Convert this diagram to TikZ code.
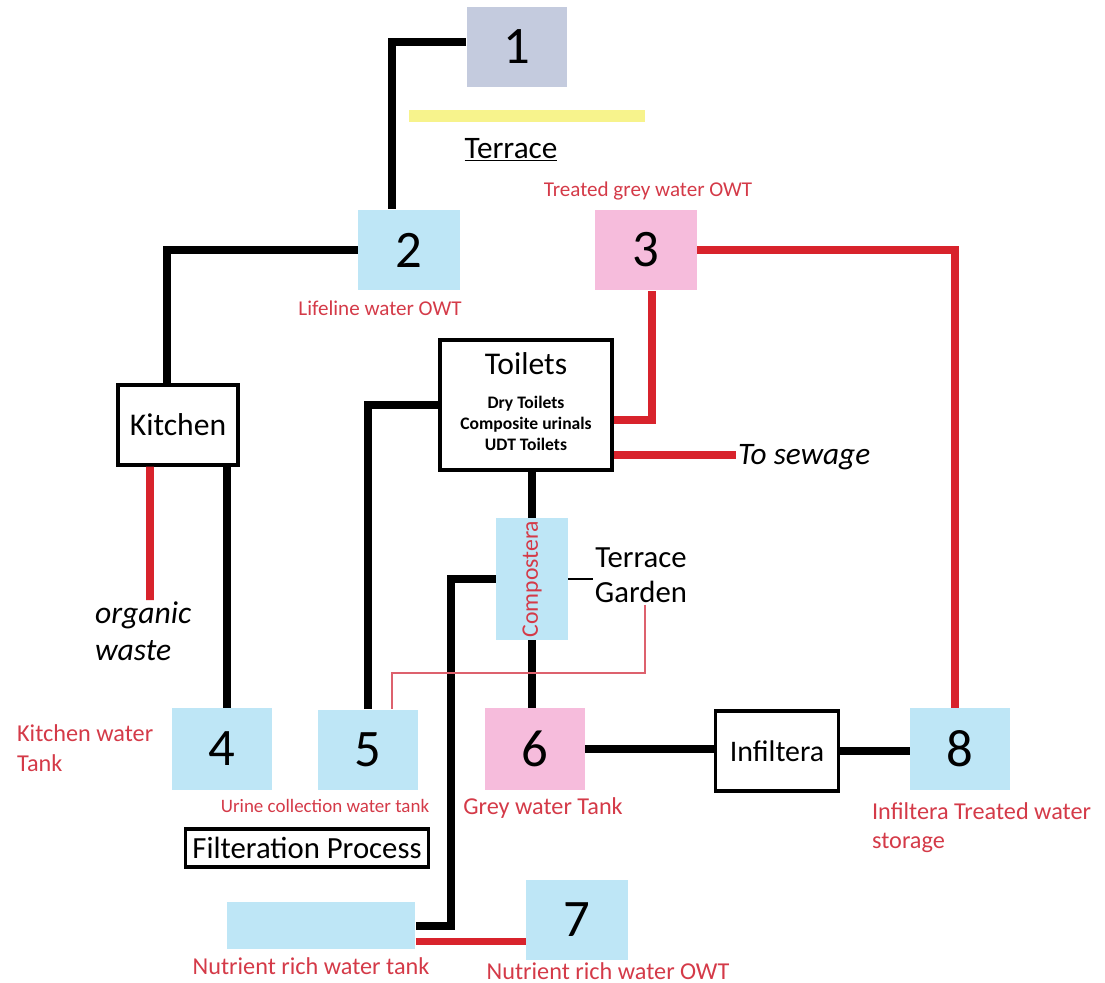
\documentclass[tikz,border=0pt]{standalone}
\usepackage{fontspec}
\setmainfont{Carlito}
\usepackage{tikz}
\usetikzlibrary{positioning, calc}
\definecolor{tBlue}{HTML}{BEE6F6}
\definecolor{tPink}{HTML}{F6BCDC}
\definecolor{tSlate}{HTML}{C4CBDE}
\definecolor{tYellow}{HTML}{F7F38C}
\definecolor{pRed}{HTML}{D8232C}
\definecolor{lRed}{HTML}{D43A48}
\tikzset{
  tank/.style={fill=tBlue, minimum width=2cm, minimum height=1.62cm,
    inner sep=0pt, font=\fontsize{30}{30}\selectfont},
  greytank/.style={tank, fill=tPink},
  unit/.style={draw=black, line width=1.8pt, fill=white, inner sep=2pt,
    align=center, font=\fontsize{18}{20}\selectfont},
  pipe/.style={line width=4.5pt},
  redpipe/.style={pipe, draw=pRed},
  thinpipe/.style={line width=0.9pt},
  tag/.style={text=lRed, font=\fontsize{13.8}{17}\selectfont, align=left, inner sep=1pt},
  note/.style={font=\fontsize{17.5}{20}\selectfont, align=left, inner sep=1pt},
}

\begin{document}
\begin{tikzpicture}[x=0.02cm, y=-0.02cm]
  \useasboundingbox (0,0) rectangle (1105,983);

  % terrace level
  \node[tank, fill=tSlate, minimum width=2.02cm, minimum height=1.6cm] (b1) at (517,47) {1};
  \node[fill=tYellow, minimum width=4.74cm, minimum height=0.24cm, inner sep=0pt] (bar) at (527,116) {};
  \node[note, font=\fontsize{17.8}{20}\selectfont] (terr) at (511,150) {\underline{Terrace}};

  % overhead tanks
  \node[tank, minimum width=2.04cm] (b2) at (409,250) {2};
  \node[tag, font=\fontsize{12}{14}\selectfont] (l2) at (380,308) {Lifeline water OWT};
  \node[greytank, minimum width=2.04cm] (b3) at (646,250) {3};
  \node[tag, font=\fontsize{12}{14}\selectfont] (l3) at (648,191) {Treated grey water OWT};

  % kitchen and toilets
  \node[unit, minimum width=2.4cm, minimum height=1.6cm] (kit) at (178,425) {Kitchen};
  \node[note, font=\itshape\fontsize{18}{21}\selectfont, anchor=north west] (org) at (93,600) {organic\\waste};
  \coordinate (orgtop) at (150,600);
  \node[unit, minimum width=3.44cm, minimum height=2.6cm] (toi) at (526,405)
    {Toilets\\[-1pt]{\bfseries\fontsize{10}{12.2}\selectfont
     \begin{tabular}[t]{@{}c@{}}Dry Toilets\\Composite urinals\\UDT Toilets\end{tabular}}};
  \node[note, font=\itshape\fontsize{17.8}{20}\selectfont, anchor=west] (sew) at (736,457) {To sewage};

  \node[tank, minimum width=1.44cm, minimum height=2.44cm] (comp) at (532,579)
    {\color{lRed}\fontsize{13.5}{14}\selectfont\rotatebox{90}{Compostera}};
  \node[note, align=center] (garden) at (641,575) {Terrace\\Garden};
  \coordinate (gbend) at (645,673);

  % ground tanks
  \node[tank, minimum height=1.64cm] (b4) at (222,749) {4};
  \node[tag, anchor=west] (l4) at (15,748) {Kitchen water\\Tank};
  \node[tank] (b5) at (368,750) {5};
  \node[tag, font=\fontsize{10.8}{12}\selectfont] (l5) at (325,806) {Urine collection water tank};
  \node[greytank, minimum height=1.64cm] (b6) at (535,749) {6};
  \node[tag] (l6) at (543,808) {Grey water Tank};
  \node[unit, minimum width=2.46cm, minimum height=1.6cm, font=\fontsize{17}{20}\selectfont] (inf) at (777,751) {Infiltera};
  \node[tank, minimum height=1.64cm] (b8) at (960,749) {8};
  \node[tag, anchor=north west, font=\fontsize{13.8}{16}\selectfont] (l8) at (870,801) {Infiltera Treated water\\storage};

  \node[unit, minimum width=4.86cm, minimum height=0.76cm, inner sep=1pt, font=\fontsize{17.5}{20}\selectfont] (filt) at (307,848) {Filteration Process};
  \node[fill=tBlue, minimum width=3.78cm, minimum height=0.94cm, inner sep=0pt] (nut) at (321,925) {};
  \node[tag] (lnut) at (311,966) {Nutrient rich water tank};
  \node[tank, minimum width=2.04cm, minimum height=1.6cm] (b7) at (577,920) {7};
  \node[tag] (l7) at (608,971) {Nutrient rich water OWT};
  \coordinate (nbend) at (451,926);

  % black pipes
  \draw[pipe] ([yshift=0.1cm]b1.west) -| ([xshift=-0.34cm]b2.north);
  \draw[pipe] (b2.west) -| ([xshift=-0.22cm]kit.north);
  \draw[pipe] ([xshift=0.1cm]b4.north) -- ([xshift=0.1cm]b4.north |- kit.south);
  \draw[pipe] (b5.north) |- (toi.west);
  \draw[pipe] (toi.south -| comp.north) -- (comp.north);
  \draw[pipe] (comp.south) -- (comp.south |- b6.north);
  \draw[pipe] (comp.west) -| (nbend) -- (nut.east |- nbend);
  \draw[pipe] (b6.east) -- (b6.east -| inf.west);
  \draw[pipe] (inf.east) -- (inf.east -| b8.west);

  % red pipes
  \draw[redpipe] ([xshift=-0.56cm]kit.south) -- (orgtop);
  \draw[redpipe] ([yshift=-0.3cm]toi.east) -| ([xshift=0.12cm]b3.south);
  \draw[redpipe] ([yshift=-1cm]toi.east) -- ([yshift=-1cm]toi.east -| sew.west);
  \draw[redpipe] (b3.east) -| ([xshift=-0.1cm]b8.north);
  \draw[redpipe] ([yshift=-0.33cm]nut.east) -- ([yshift=-0.33cm]nut.east -| b7.west);

  % thin links
  \draw[thinpipe] (comp.east) -- (comp.east -| garden.west);
  \draw[thinpipe, draw=lRed!80] (garden.south -| gbend) -- (gbend) -| ([xshift=0.48cm]b5.north);
\end{tikzpicture}
\end{document}
